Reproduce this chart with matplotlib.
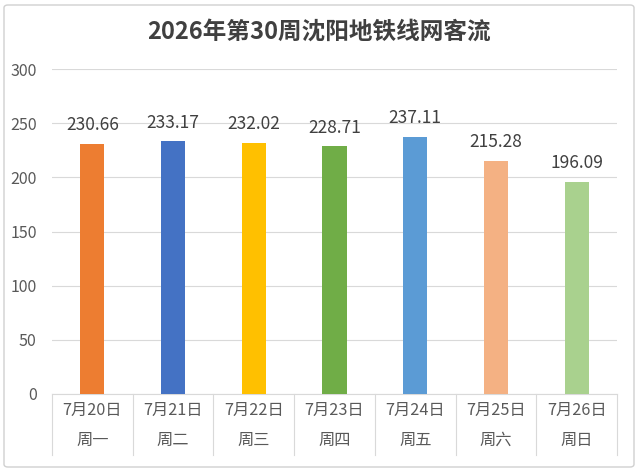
import matplotlib
matplotlib.use('Agg')
import matplotlib.pyplot as plt
from matplotlib.patches import FancyBboxPatch

plt.rcParams['font.family'] = ['Noto Sans CJK SC', 'DejaVu Sans']

dates = ['7月20日', '7月21日', '7月22日', '7月23日', '7月24日', '7月25日', '7月26日']
weekdays = ['周一', '周二', '周三', '周四', '周五', '周六', '周日']
values = [230.66, 233.17, 232.02, 228.71, 237.11, 215.28, 196.09]
colors = ['#ED7D31', '#4472C4', '#FFC000', '#70AD47', '#5B9BD5', '#F4B183', '#A9D18E']

fig = plt.figure(figsize=(6.38, 4.71), dpi=100)
fig.patches.append(FancyBboxPatch((4 / 638, 4 / 471), 630 / 638, 462 / 471,
                                  boxstyle='round,pad=0,rounding_size=0.006',
                                  transform=fig.transFigure, fill=False,
                                  edgecolor='#D0D0D0', linewidth=1))

ax = fig.add_axes([52 / 638, 1 - 394 / 471, 565 / 638, 325 / 471])
x = list(range(len(values)))
bars = ax.bar(x, values, width=0.3, color=colors, zorder=3)
for xi, v in zip(x, values):
    ax.annotate(f'{v:.2f}', (xi, v), xytext=(0, 7), textcoords='offset points',
                ha='center', va='bottom', fontsize=12.5, color='#404040')

ax.set_xlim(-0.5, len(values) - 0.5)
ax.set_ylim(0, 300)
ax.set_yticks(range(0, 301, 50))
ax.yaxis.grid(True, color='#D9D9D9', linewidth=0.8, zorder=0)
ax.tick_params(axis='y', length=0, labelsize=11.5, labelcolor='#595959', pad=11)
ax.set_xticks([])
for s in ['top', 'right', 'left']:
    ax.spines[s].set_visible(False)
ax.spines['bottom'].set_color('#D9D9D9')

tr = ax.get_xaxis_transform()
for xi in x:
    ax.text(xi, -0.052, dates[xi], transform=tr, ha='center', va='center',
            fontsize=11.7, color='#595959')
    ax.text(xi, -0.142, weekdays[xi], transform=tr, ha='center', va='center',
            fontsize=11.7, color='#595959')
for b in range(len(values) + 1):
    ax.plot([b - 0.5, b - 0.5], [0, -0.188], transform=tr, color='#D9D9D9',
            linewidth=0.8, clip_on=False)

fig.text(0.5, 1 - 32 / 471, '2026年第30周沈阳地铁线网客流', ha='center', va='center',
         fontsize=17, fontweight='bold', color='#404040')

fig.savefig('out.png', dpi=100)
